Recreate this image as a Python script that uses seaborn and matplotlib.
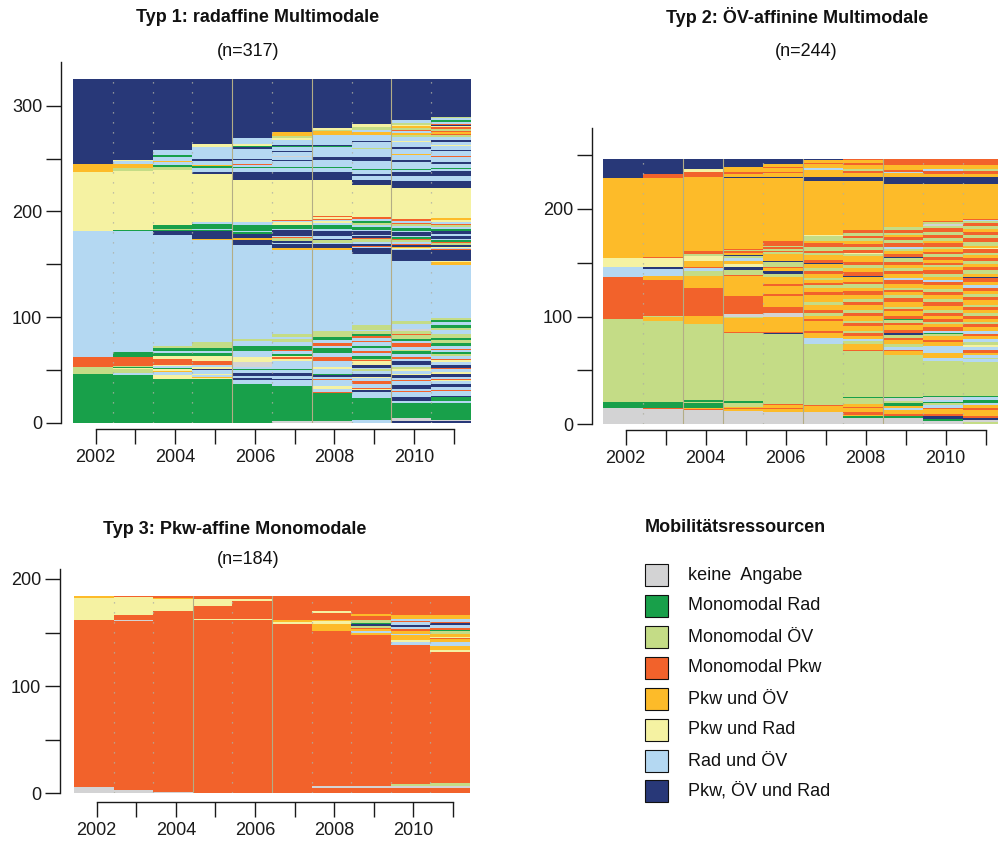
import matplotlib
matplotlib.use("Agg")
import matplotlib.pyplot as plt
from matplotlib.patches import Rectangle
import pandas as pd
import seaborn as sns

# ---------------------------------------------------------------- data
years = list(range(2002, 2012))

state_codes = ["k", "g", "l", "p", "a", "y", "b", "n"]
state_labels = ["keine  Angabe", "Monomodal Rad", "Monomodal ÖV", "Monomodal Pkw",
                "Pkw und ÖV", "Pkw und Rad", "Rad und ÖV", "Pkw, ÖV und Rad"]
state_colors = ["#D3D3D4", "#18A04A", "#C4DC86", "#F2622B",
                "#FDBB29", "#F5F2A2", "#B4D8F2", "#283878"]

panel_titles = ["Typ 1: radaffine Multimodale", "Typ 2: ÖV-affinine Multimodale",
                "Typ 3: Pkw-affine Monomodale"]
panel_n = [317, 244, 184]
legend_title = "Mobilitätsressourcen"

# each string is one year, stacked from the bottom: state code + number of persons
typ1_columns = [
    "g46 l7 p9 b119 y56 a8 n80",
    "g45 b2 l4 y1 g1 l1 p8 g5 b114 g1 y56 l3 a4 b3 y1 n76",
    "g41 y4 b3 a1 y2 g1 b2 y1 p5 y3 g3 b2 g3 l2 b105 n3 g1 l1 g4 y52 l3 g2 b3 a1 b3 g2 b5 n67",
    "g41 y1 a1 b2 y1 b4 n1 y2 b2 p3 y5 g3 b2 g3 l5 b97 a1 n7 g1 b1 g5 b2 y45 n2 b4 g2 a1 b4 n2 b11 y3 n61",
    "g37 b3 n2 b2 n3 b3 g1 b2 k4 y5 b6 g5 b4 l2 b89 n5 a2 n4 g1 b1 g6 b3 y40 n7 b4 g1 b2 p1 b4 n1 b9 n2 g1 y2 b5 n56",
    "k2 g33 b5 n1 b3 n3 b3 g1 b7 y2 p2 y1 g2 b3 p1 g4 b3 l3 b2 l3 b79 a2 n4 b1 n2 l3 p1 b1 n5 b1 g4 y3 b1 p1 y38 "
    "n7 b4 g1 b6 n1 b2 k1 b4 n1 b4 g1 n1 b5 y1 l2 a4 n50",
    "k2 g26 p1 b3 y3 b5 p1 b2 n2 g1 b5 y2 b5 p4 b4 g5 b2 p2 b3 g3 l6 b76 a2 n4 b1 l3 n1 b3 n4 b2 g4 b2 y2 b1 p1 "
    "y2 p1 y34 n7 b4 g1 b7 n2 b10 g1 n1 b9 a4 l1 y2 n46",
    "b3 g20 b6 n2 y1 p1 b4 p2 b3 y1 n3 b3 l2 b1 n3 y3 p1 l1 g3 b3 p2 b3 g2 b3 p1 b3 p2 g2 l3 b1 l4 b68 n5 b1 p1 "
    "n2 b2 l3 p1 n2 b1 n3 b1 g3 b2 l2 g2 b2 p2 y30 n5 b3 n2 b4 g1 b8 n3 b8 l1 b6 n1 b5 a3 b2 l3 y3 n42",
    "n2 k2 g15 b2 n3 b5 p1 b2 n4 b3 p1 b2 n3 y1 b3 y2 l2 b2 n3 b2 p2 b3 g3 l1 b3 p3 b2 g2 l4 p1 l3 k2 b4 l3 b57 "
    "n10 b1 y1 a1 n2 p1 b2 l2 p1 g2 b1 n3 b1 g3 b2 l2 p1 b2 p2 y29 n7 b4 n4 b2 g1 b7 n2 b4 a1 b5 n2 b5 y1 b3 l2 "
    "a2 b2 p1 l2 a2 y1 l2 b2 n39",
    "n2 k1 g16 b2 g3 n1 b5 p1 b3 n3 b2 y1 p1 b2 n3 y2 b3 p1 n3 b2 y2 p1 b3 l2 g2 b2 p1 b3 g2 l3 g2 l4 b4 l2 g2 b3 "
    "g2 l2 b50 a3 y1 n10 p1 b1 y1 n2 l2 p1 g2 b1 n3 b2 n2 g2 b2 l2 p1 b2 y2 a2 y28 n7 b4 n5 b2 g1 b4 n2 b4 p1 b5 "
    "n1 b4 y1 b3 n2 b2 l2 p1 a2 p1 l2 p2 y1 n1 p1 b2 g1 b2 l1 n36",
]

typ2_columns = [
    "k15 g6 l77 p39 b9 y8 a75 n17",
    "k14 p1 g6 l75 a4 l1 p33 a4 b6 n2 y8 p1 a74 p3 n14",
    "k13 p1 a1 g5 l1 g2 l70 a8 p26 a11 l4 b3 p1 a6 y4 l2 p3 a69 p4 y3 n9",
    "k12 a2 p1 a1 l4 g2 l63 p1 a13 l1 k2 p17 a19 p1 l4 n3 y3 a3 b2 l2 n1 a2 p2 l1 p1 a66 n1 a2 p2 a5 n7",
    "k11 a3 p1 a3 p1 l65 n1 p1 a14 k3 p6 a10 p2 a7 p2 a7 l3 n2 a3 p1 l5 n1 a6 l2 p1 l2 p2 l1 p4 a59 n1 a3 p1 a4 "
    "p1 a3 n4",
    "k11 a6 p1 l57 b5 a5 p2 a9 p2 a3 l2 p3 a5 l3 a6 p3 a4 l2 p2 a3 l2 a4 p2 l3 a4 n1 p3 a4 l2 p2 l4 p3 a2 l5 y1 "
    "a50 n4 a6 b2 a4 p1 a2 n1",
    "k6 g2 a1 p2 a4 p1 a3 l2 l3 g1 l43 p1 a6 l2 b2 a3 p3 l2 a4 p3 l2 a5 p2 l3 a5 p3 l2 a4 p4 a3 l3 p2 a5 n1 p3 a4 "
    "l3 p3 a5 l2 y1 p3 l3 p2 a3 l3 p2 l3 p2 a46 n4 a3 p2 l2 a4 p2 a2 p1",
    "k6 g2 p2 a3 b2 a2 g3 l2 k2 g1 l39 a4 p1 b3 l3 a3 p2 l3 n2 p3 a4 p2 l3 g1 p3 a4 p2 l2 a5 p3 l3 a3 p2 l2 a3 p4 "
    "b2 a4 p2 l3 a3 p3 l3 n1 p3 a3 l2 b2 p3 l3 p3 a2 l2 p2 l3 a40 n7 a3 b1 p2 a5 p5",
    "k3 g2 n3 p2 a4 p1 b3 l2 g1 b2 k2 g1 l33 b3 a4 b7 a3 p2 a4 l2 g1 b2 p3 a3 l2 p3 a3 p2 l3 a4 p4 l2 a4 p3 l3 a3 "
    "p3 b2 a3 l3 p3 a3 l2 p2 a3 p2 l3 p2 a3 l2 p3 a2 l3 p3 l3 p3 l2 k2 l2 p1 a34 n7 a2 p3 b2 a4 p5",
    "l2 k2 n2 p2 a5 p2 a3 b2 g3 b2 g1 l32 b3 l1 b2 a2 p3 b3 y2 l2 b3 a3 p2 b3 a3 p3 l2 a3 p3 l2 a3 p3 l2 a4 p3 l3 "
    "a3 p3 b2 a3 p4 n1 a3 l3 p3 a3 l3 p2 a3 l2 p4 y1 a2 l3 p4 l3 p3 a2 l3 p3 l2 b1 p1 a32 n7 a2 p3 l2 a4 p5",
]

typ3_columns = [
    "k6 p156 y20 a2",
    "k3 p158 k1 p4 y17 p1",
    "k1 p169 y11 a1 p2",
    "p162 y1 p12 y6 p3",
    "p162 y1 p16 y2 p3",
    "p158 y2 a2 p22",
    "p5 k2 p144 a7 y3 a1 p6 y2 p14",
    "p5 k2 p141 a2 b1 a2 p1 l2 n2 g1 l3 p3 a2 p17",
    "p5 k2 l2 p129 b3 y2 a5 b1 a2 p2 b2 n2 b3 p1 b2 a3 p18",
    "p5 k2 l3 p122 y2 a3 b4 a3 p1 y1 a3 l2 g1 p2 b3 n2 p1 b3 a3 p18",
]


def segments(columns):
    """Turn the per-year strings into one row per stacked segment."""
    rows = []
    for year, col in zip(years, columns):
        bottom = 0
        merged = []
        for tok in col.split():
            code, n = tok[0], int(tok[1:])
            if merged and merged[-1][0] == code:
                merged[-1][1] += n
            else:
                merged.append([code, n])
        for code, n in merged:
            rows.append((year, code, n, bottom))
            bottom += n
    return pd.DataFrame(rows, columns=["year", "state", "count", "bottom"])


# ---------------------------------------------------------------- style
sns.set_theme(style="ticks")
plt.rcParams["font.family"] = ["Liberation Sans", "DejaVu Sans"]
plt.rcParams["axes.edgecolor"] = "#1a1a1a"
plt.rcParams["xtick.color"] = "#1a1a1a"
plt.rcParams["ytick.color"] = "#1a1a1a"
plt.rcParams["text.color"] = "#111111"

W, H = 998, 841
fig = plt.figure(figsize=(W / 100, H / 100), dpi=100)
color_of = dict(zip(state_codes, state_colors))


def fx(x):
    return x / W


def fy(y):
    return 1 - y / H


def draw_panel(columns, left, right, y0, scale, ytop, yticks, off_left, off_bottom,
               solid_seams, title, n, title_xy, n_xy):
    # axes rectangle in pixels: data columns span [left, right]; value 0 sits at y0
    height_px = ytop * scale
    ax = fig.add_axes([fx(left), fy(y0), (right - left) / W, height_px / H])
    df = segments(columns)
    ax.bar(df["year"], df["count"], bottom=df["bottom"], width=1.0,
           color=df["state"].map(color_of), linewidth=0, antialiased=False, zorder=1)
    totals = df.groupby("year")["count"].sum()
    top = totals.max()
    # thin seams between the year columns
    for b in [y + 0.5 for y in years[:-1]]:
        if b in solid_seams:
            ax.plot([b, b], [0, top], color="#b3ad86", lw=0.8, zorder=2)
        else:
            ax.plot([b, b], [0, top], color="#aeb0a4", lw=0.9,
                    linestyle=(0, (1, 7)), zorder=2)
    ax.set_xlim(2001.5, 2011.5)
    ax.set_ylim(0, ytop)
    ax.set_facecolor("none")
    sns.despine(ax=ax, offset={"left": off_left * 0.72, "bottom": off_bottom * 0.72})
    ax.spines["left"].set_bounds(0, ytop)
    ax.spines["bottom"].set_bounds(years[0] + 0.07, years[-1] + 0.07)
    for s in ("left", "bottom"):
        ax.spines[s].set_linewidth(1.0)
    ax.set_yticks(yticks)
    ax.set_yticklabels([str(v) if v % 100 == 0 else "" for v in yticks])
    ax.set_xticks([y + 0.07 for y in years])
    ax.set_xticklabels([str(y) if (y - years[0]) % 2 == 0 else "" for y in years])
    ax.tick_params(axis="both", direction="out", length=10.5, width=1.0,
                   labelsize=13, pad=3)
    ax.tick_params(axis="x", pad=4)
    ax.set_xlabel("")
    ax.set_ylabel("")
    fig.text(fx(title_xy[0]), fy(title_xy[1]), title, ha="center", va="center",
             fontsize=13, fontweight="bold")
    fig.text(fx(n_xy[0]), fy(n_xy[1]), f"(n={n})", ha="center", va="center",
             fontsize=13)
    return ax


draw_panel(typ1_columns, 73, 471, 422.7, 1.0567, 341.3, list(range(0, 301, 50)),
           12, 6.6, [2005.5, 2007.5, 2009.5], panel_titles[0], panel_n[0],
           (258, 18), (248, 52))
draw_panel(typ2_columns, 602.7, 1002.7, 424.3, 1.077, 275.4, list(range(0, 251, 50)),
           11, 5.7, [2003.5, 2004.5, 2006.5, 2008.5], panel_titles[1], panel_n[1],
           (797, 17), (806, 52))
draw_panel(typ3_columns, 74, 470, 793.3, 1.072, 209.2, list(range(0, 201, 50)),
           14, 8.4, [2004.5, 2006.5], panel_titles[2], panel_n[2],
           (235, 529), (248, 560))

# ---------------------------------------------------------------- legend
fig.text(fx(735), fy(527), legend_title, ha="center", va="center",
         fontsize=13, fontweight="bold")
row_y = [575, 606, 637, 668, 699, 730, 761, 791]
for yc, label, col in zip(row_y, state_labels, state_colors):
    fig.patches.append(Rectangle((fx(645), fy(yc + 11)), 23 / W, 22 / H,
                                 transform=fig.transFigure, facecolor=col,
                                 edgecolor="#111111", linewidth=0.8))
    fig.text(fx(688), fy(yc), label, ha="left", va="center", fontsize=13)

fig.savefig("out.png", dpi=100)
